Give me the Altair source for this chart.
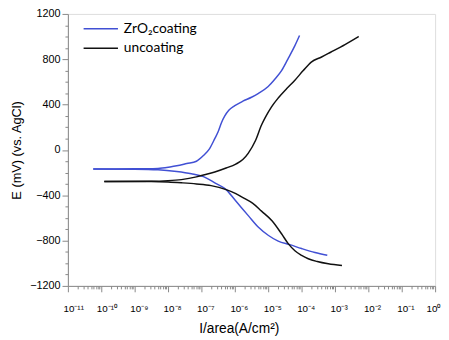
import altair as alt
import pandas as pd

# ---- data (log10 of current density, potential in mV) ----
zr_anodic_logI = [-10.24, -9.0, -8.3, -7.94, -7.74, -7.44, -7.15, -6.94, -6.76, -6.6, -6.5, -6.4,
                  -6.3, -6.18, -6.0, -5.76, -5.5, -5.29, -5.0, -4.79, -4.6, -4.41, -4.2, -4.06]
zr_anodic_E = [-168, -167, -163, -150, -140, -120, -100, -50, 10, 100, 160, 240,
               300, 350, 390, 430, 465, 500, 560, 628, 700, 802, 920, 1010]
zr_cathodic_logI = [-10.24, -9.0, -8.3, -7.74, -7.3, -6.94, -6.6, -6.26, -6.0, -5.8, -5.59, -5.3,
                    -4.99, -4.7, -4.35, -4.0, -3.6, -3.23]
zr_cathodic_E = [-168, -170, -175, -190, -210, -236, -290, -350, -440, -510, -582, -680,
                 -755, -805, -836, -870, -905, -929]

un_anodic_logI = [-9.91, -8.5, -8.0, -7.6, -7.15, -6.94, -6.6, -6.26, -5.97, -5.76, -5.6, -5.38,
                  -5.2, -5.09, -4.9, -4.7, -4.45, -4.2, -3.95, -3.71, -3.4, -3.13, -2.7, -2.29]
un_anodic_E = [-278, -277, -272, -262, -238, -222, -195, -160, -125, -85, -30, 83,
               220, 285, 380, 458, 540, 615, 700, 775, 820, 862, 930, 1001]
un_cathodic_logI = [-9.91, -8.5, -8.0, -7.6, -7.15, -6.71, -6.26, -5.97, -5.7, -5.47, -5.2, -4.88,
                    -4.6, -4.4, -4.2, -4.0, -3.8, -3.53, -3.2, -2.79]
un_cathodic_E = [-278, -279, -283, -290, -300, -315, -350, -385, -430, -470, -540, -627,
                 -740, -827, -890, -930, -960, -985, -1005, -1020]

series_names = ["ZrO\u2082coating", "uncoating"]
series_colors = ["#4150d4", "#111111"]

x_exponents = list(range(-11, 1))
x_labels = ["10\u207b\u00b9\u00b9", "10\u207b\u00b9\u2070", "10\u207b\u2079", "10\u207b\u2078",
            "10\u207b\u2077", "10\u207b\u2076", "10\u207b\u2075", "10\u207b\u2074",
            "10\u207b\u00b3", "10\u207b\u00b2", "10\u207b\u00b9", "10\u2070"]
y_major = [-1200, -800, -400, 0, 400, 800, 1200]

# ---- build table ----
rows = []
for name, branch, xs, ys in [
    (series_names[0], "a", zr_anodic_logI, zr_anodic_E),
    (series_names[0], "c", zr_cathodic_logI, zr_cathodic_E),
    (series_names[1], "a", un_anodic_logI, un_anodic_E),
    (series_names[1], "c", un_cathodic_logI, un_cathodic_E),
]:
    for i, (lx, e) in enumerate(zip(xs, ys)):
        rows.append({"series": name, "branch": name + branch, "order": i,
                     "I": 10.0 ** lx, "E": e})
df = pd.DataFrame(rows)

x_tick_values = [m * 10.0 ** k for k in x_exponents[:-1] for m in range(1, 10)] + [1.0]
y_tick_values = list(range(-1200, 1201, 100))

lab_arr = "[" + ",".join("'" + s + "'" for s in x_labels) + "]"
x_is_major = "abs(log(datum.value)/LN10 - round(log(datum.value)/LN10)) < 0.001"
x_label_expr = f"{x_is_major} ? {lab_arr}[round(log(datum.value)/LN10) + 11] : ''"
y_is_major = "datum.value % 400 == 0"
x_is_last = "datum.value > 0.5"

FONT = "Lato"

chart = alt.Chart(df).mark_line(strokeWidth=1.5, interpolate="monotone").encode(
    x=alt.X("I:Q",
            scale=alt.Scale(type="log", domain=[1e-11, 1], nice=False),
            axis=alt.Axis(values=x_tick_values, labelExpr=x_label_expr,
                          labelOverlap=False, labelFlush=False, grid=False,
                          tickSize={"condition": {"test": x_is_major, "value": 6}, "value": 3},
                          labelAlign={"condition": {"test": x_is_last, "value": "right"}, "value": "left"},
                          labelOffset={"condition": {"test": x_is_last, "value": 5}, "value": -5},
                          labelPadding=12, labelFontSize=10,
                          title="I/area(A/cm\u00b2)", titleFontSize=14, titleFontWeight="normal",
                          titleX=174, titlePadding=8)),
    y=alt.Y("E:Q",
            scale=alt.Scale(domain=[-1200, 1200], nice=False),
            axis=alt.Axis(values=y_tick_values, format="d",
                          labelExpr=f"{y_is_major} ? datum.label : ''",
                          tickSize={"condition": {"test": y_is_major, "value": 6}, "value": 3},
                          grid=False, labelPadding=2, labelFontSize=11,
                          title="E (mV) (vs. AgCl)", titleFontSize=13, titleFontWeight="normal",
                          titlePadding=6)),
    color=alt.Color("series:N",
                    scale=alt.Scale(domain=series_names, range=series_colors),
                    legend=alt.Legend(title=None, orient="none", legendX=26.5, legendY=8,
                                      symbolType="M-3.5,0L3.5,0", symbolSize=100,
                                      symbolStrokeWidth=1.5,
                                      labelFontSize=14, labelOffset=16.5, rowPadding=6, padding=0,
                                      labelFont=FONT)),
    detail="branch:N",
    order="order:Q",
).properties(
    width=374, height=277,
    autosize=alt.AutoSizeParams(type="none"),
    padding={"left": 61, "top": 3, "right": 6, "bottom": 50},
).configure_view(
    stroke="black", strokeWidth=1.5
).configure_axis(
    domainColor="black", domainWidth=1.5, tickColor="black", tickWidth=1,
    labelColor="#333333", titleColor="#222222", labelFont=FONT, titleFont=FONT,
).configure(background="white")

chart.save("out.html", embed_options={"renderer": "svg", "actions": False})
